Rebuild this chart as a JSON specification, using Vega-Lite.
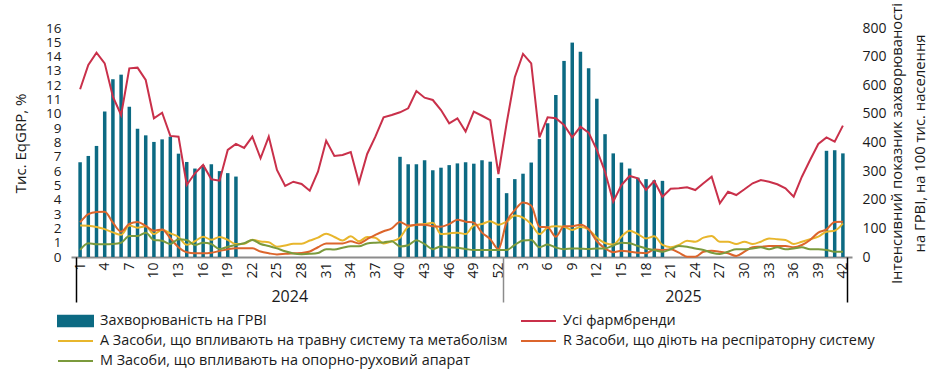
{
  "$schema": "https://vega.github.io/schema/vega-lite/v6.json",
  "width": 781,
  "height": 229,
  "autosize": {"type": "none"},
  "padding": {"left": 71, "top": 28, "right": 93, "bottom": 115},
  "config": {
    "view": {"stroke": null},
    "font": "Open Sans",
    "axis": {"grid": false, "labelColor": "#1a1a1a", "titleColor": "#1a1a1a", "titleFontWeight": "normal"}
  },
  "datasets": {
    "d": [
      {"i":1,"b":331,"u":11.72,"A":2.2,"R":2.42,"M":0.49},
      {"i":2,"b":353,"u":13.42,"A":2.18,"R":3.0,"M":0.96},
      {"i":3,"b":388,"u":14.28,"A":2.1,"R":3.15,"M":0.89},
      {"i":4,"b":508,"u":13.53,"A":1.95,"R":3.17,"M":0.89},
      {"i":5,"b":621,"u":11.2,"A":1.72,"R":2.4,"M":0.91},
      {"i":6,"b":637,"u":9.92,"A":1.55,"R":1.77,"M":1.0},
      {"i":7,"b":525,"u":13.18,"A":2.2,"R":2.31,"M":1.47},
      {"i":8,"b":448,"u":13.23,"A":2.05,"R":2.45,"M":1.47},
      {"i":9,"b":425,"u":12.37,"A":2.15,"R":2.17,"M":1.7},
      {"i":10,"b":402,"u":9.69,"A":1.6,"R":1.84,"M":1.19},
      {"i":11,"b":411,"u":10.08,"A":1.9,"R":1.93,"M":1.14},
      {"i":12,"b":420,"u":8.46,"A":1.65,"R":1.31,"M":0.91},
      {"i":13,"b":361,"u":8.41,"A":1.4,"R":0.68,"M":1.24},
      {"i":14,"b":332,"u":5.03,"A":0.85,"R":0.33,"M":1.19},
      {"i":15,"b":309,"u":5.85,"A":1.1,"R":0.26,"M":0.84},
      {"i":16,"b":320,"u":6.43,"A":1.42,"R":0.26,"M":1.0},
      {"i":17,"b":324,"u":5.43,"A":1.2,"R":0.3,"M":0.91},
      {"i":18,"b":300,"u":5.33,"A":1.4,"R":0.42,"M":0.56},
      {"i":19,"b":293,"u":7.48,"A":1.2,"R":0.54,"M":0.72},
      {"i":20,"b":281,"u":7.9,"A":0.9,"R":0.61,"M":0.84},
      {"i":21,"b":null,"u":7.62,"A":0.92,"R":0.61,"M":0.96},
      {"i":22,"b":null,"u":8.41,"A":1.2,"R":0.61,"M":1.19},
      {"i":23,"b":null,"u":6.9,"A":1.08,"R":0.38,"M":0.91},
      {"i":24,"b":null,"u":8.41,"A":1.03,"R":0.26,"M":0.77},
      {"i":25,"b":null,"u":6.08,"A":0.72,"R":0.18,"M":0.6},
      {"i":26,"b":null,"u":4.96,"A":0.8,"R":0.22,"M":0.4},
      {"i":27,"b":null,"u":5.26,"A":0.93,"R":0.26,"M":0.25},
      {"i":28,"b":null,"u":5.1,"A":0.93,"R":0.28,"M":0.2},
      {"i":29,"b":null,"u":4.63,"A":1.15,"R":0.38,"M":0.22},
      {"i":30,"b":null,"u":5.96,"A":1.35,"R":0.68,"M":0.28},
      {"i":31,"b":null,"u":8.13,"A":1.63,"R":0.95,"M":0.55},
      {"i":32,"b":null,"u":7.06,"A":1.4,"R":0.95,"M":0.52},
      {"i":33,"b":null,"u":7.13,"A":1.15,"R":0.95,"M":0.65},
      {"i":34,"b":null,"u":7.34,"A":1.45,"R":1.1,"M":0.75},
      {"i":35,"b":null,"u":5.19,"A":1.1,"R":0.95,"M":0.75},
      {"i":36,"b":null,"u":7.2,"A":1.4,"R":1.25,"M":0.95},
      {"i":37,"b":null,"u":8.41,"A":1.35,"R":1.55,"M":1.0},
      {"i":38,"b":null,"u":9.76,"A":0.95,"R":1.8,"M":1.02},
      {"i":39,"b":null,"u":9.92,"A":1.1,"R":2.0,"M":1.1},
      {"i":40,"b":350,"u":10.11,"A":1.35,"R":2.45,"M":0.74},
      {"i":41,"b":324,"u":10.39,"A":2.1,"R":2.2,"M":0.82},
      {"i":42,"b":324,"u":11.6,"A":2.25,"R":2.25,"M":1.17},
      {"i":43,"b":338,"u":11.13,"A":2.3,"R":2.25,"M":0.9},
      {"i":44,"b":303,"u":10.97,"A":2.4,"R":2.15,"M":0.55},
      {"i":45,"b":312,"u":10.27,"A":1.6,"R":2.12,"M":0.74},
      {"i":46,"b":321,"u":9.34,"A":1.65,"R":2.3,"M":0.67},
      {"i":47,"b":327,"u":9.69,"A":1.7,"R":2.6,"M":0.64},
      {"i":48,"b":331,"u":8.76,"A":1.6,"R":2.47,"M":0.56},
      {"i":49,"b":326,"u":10.16,"A":2.2,"R":2.4,"M":0.49},
      {"i":50,"b":338,"u":9.87,"A":2.3,"R":1.7,"M":0.49},
      {"i":51,"b":333,"u":9.57,"A":2.5,"R":1.25,"M":0.49},
      {"i":52,"b":276,"u":5.8,"A":2.26,"R":0.55,"M":0.49},
      {"i":53,"b":223,"u":9.34,"A":2.47,"R":2.45,"M":0.49},
      {"i":54,"b":272,"u":12.56,"A":2.9,"R":3.27,"M":0.84},
      {"i":55,"b":291,"u":14.19,"A":2.75,"R":3.81,"M":1.16},
      {"i":56,"b":330,"u":13.53,"A":2.3,"R":3.6,"M":1.19},
      {"i":57,"b":412,"u":8.36,"A":1.6,"R":2.12,"M":0.68},
      {"i":58,"b":467,"u":9.76,"A":2.05,"R":2.08,"M":0.87},
      {"i":59,"b":566,"u":9.69,"A":2.15,"R":1.42,"M":0.66},
      {"i":60,"b":685,"u":9.22,"A":2.12,"R":2.14,"M":0.54},
      {"i":61,"b":749,"u":8.36,"A":1.89,"R":2.15,"M":0.6},
      {"i":62,"b":717,"u":9.11,"A":2.1,"R":2.26,"M":0.58},
      {"i":63,"b":659,"u":8.69,"A":1.92,"R":1.95,"M":0.56},
      {"i":64,"b":553,"u":7.48,"A":1.35,"R":1.1,"M":0.6},
      {"i":65,"b":429,"u":5.96,"A":0.98,"R":0.6,"M":0.6},
      {"i":66,"b":362,"u":3.86,"A":0.87,"R":0.34,"M":0.8},
      {"i":67,"b":330,"u":5.03,"A":1.42,"R":0.44,"M":1.0},
      {"i":68,"b":309,"u":5.66,"A":1.84,"R":0.37,"M":0.96},
      {"i":69,"b":277,"u":5.5,"A":1.6,"R":0.3,"M":0.77},
      {"i":70,"b":272,"u":4.68,"A":1.3,"R":0.26,"M":0.6},
      {"i":71,"b":268,"u":5.31,"A":1.45,"R":0.52,"M":0.48},
      {"i":72,"b":266,"u":4.21,"A":0.84,"R":0.49,"M":0.37},
      {"i":73,"b":null,"u":4.77,"A":0.68,"R":0.54,"M":0.54},
      {"i":74,"b":null,"u":4.8,"A":0.84,"R":0.3,"M":0.77},
      {"i":75,"b":null,"u":4.87,"A":1.14,"R":0.02,"M":0.72},
      {"i":76,"b":null,"u":4.68,"A":1.07,"R":0.02,"M":0.6},
      {"i":77,"b":null,"u":5.15,"A":1.35,"R":0.37,"M":0.49},
      {"i":78,"b":null,"u":5.61,"A":1.47,"R":0.44,"M":0.3},
      {"i":79,"b":null,"u":3.75,"A":1.07,"R":0.37,"M":0.21},
      {"i":80,"b":null,"u":4.56,"A":1.07,"R":0.26,"M":0.37},
      {"i":81,"b":null,"u":4.33,"A":0.91,"R":0.07,"M":0.54},
      {"i":82,"b":null,"u":4.73,"A":1.07,"R":0.37,"M":0.54},
      {"i":83,"b":null,"u":5.15,"A":0.91,"R":0.68,"M":0.6},
      {"i":84,"b":null,"u":5.38,"A":1.07,"R":0.72,"M":0.68},
      {"i":85,"b":null,"u":5.26,"A":1.3,"R":0.77,"M":0.54},
      {"i":86,"b":null,"u":5.08,"A":1.24,"R":0.77,"M":0.68},
      {"i":87,"b":null,"u":4.8,"A":1.19,"R":0.77,"M":0.54},
      {"i":88,"b":null,"u":4.21,"A":0.91,"R":0.68,"M":0.6},
      {"i":89,"b":null,"u":5.61,"A":1.07,"R":0.84,"M":0.68},
      {"i":90,"b":null,"u":6.78,"A":1.24,"R":1.19,"M":0.54},
      {"i":91,"b":null,"u":7.9,"A":1.42,"R":1.7,"M":0.54},
      {"i":92,"b":371,"u":8.36,"A":1.77,"R":1.93,"M":0.49},
      {"i":93,"b":373,"u":8.06,"A":1.84,"R":2.45,"M":0.37},
      {"i":94,"b":362,"u":9.18,"A":2.35,"R":2.47,"M":0.37}
    ]
  },
  "data": {"name": "d"},
  "resolve": {"scale": {"y": "independent"}, "axis": {"x": "independent"}},
  "layer": [
    {
      "mark": {"type": "bar", "size": 3.5},
      "encoding": {
        "x": {
          "field": "i", "type": "quantitative",
          "scale": {"domain": [0.5, 94.5], "nice": false, "zero": false},
          "axis": {
            "orient": "bottom",
            "title": null,
            "values": [1,4,7,10,13,16,19,22,25,28,31,34,37,40,43,46,49,52,55,58,61,64,67,70,73,76,79,82,85,88,91,94],
            "labelExpr": "'' + (datum.value > 52 ? datum.value - 52 : datum.value)",
            "labelAngle": 270,
            "labelAlign": "right",
            "labelBaseline": "middle",
            "labelFontSize": 14,
            "labelPadding": 5,
            "labelOverlap": false,
            "labelFlush": false,
            "ticks": false,
            "domain": true,
            "domainColor": "#8c8c8c",
            "domainWidth": 2
          }
        },
        "y": {
          "field": "b", "type": "quantitative",
          "scale": {"domain": [0, 800], "nice": false},
          "axis": {
            "orient": "right",
            "values": [0,100,200,300,400,500,600,700,800],
            "ticks": false,
            "domain": false,
            "labelOverlap": false,
            "labelPadding": 10,
            "labelFontSize": 14,
            "title": ["Інтенсивний показник захворюваності", "на ГРВІ, на 100 тис. населення"],
            "titleAngle": 270,
            "titleX": 45,
            "titleY": 115,
            "titleAlign": "center",
            "titleBaseline": "middle",
            "titleLineHeight": 23,
            "titleFontSize": 14.8
          }
        },
        "color": {
          "datum": "bar",
          "title": null,
          "scale": {
            "domain": ["bar", "u", "A", "R", "M"],
            "range": ["#0c6a83", "#c9304a", "#e8b62c", "#dc652c", "#7b9a3c"]
          },
          "legend": {
            "title": null,
            "orient": "none",
            "direction": "horizontal",
            "legendX": -14,
            "legendY": 283,
            "columns": 2,
            "columnPadding": 12,
            "rowPadding": 0,
            "padding": 0,
            "clipHeight": 20,
            "symbolSize": 1225,
            "symbolType": "stroke",
            "symbolStrokeWidth": 2,
            "labelOffset": 6,
            "labelFontSize": 14.4,
            "labelLimit": 700,
            "labelColor": "#1a1a1a",
            "labelExpr": "datum.value === 'bar' ? 'Захворюваність на ГРВІ' : datum.value === 'u' ? 'Усі фармбренди' : datum.value === 'A' ? 'A Засоби, що впливають на травну систему та метаболізм' : datum.value === 'R' ? 'R Засоби, що діють на респіраторну систему' : 'M Засоби, що впливають на опорно-руховий апарат'",
            "encode": {
              "symbols": {
                "update": {
                  "shape": {"signal": "datum.value === 'bar' ? 'M-1,-0.3H1V0.3H-1Z' : 'stroke'"},
                  "fill": {"signal": "datum.value === 'bar' ? '#0c6a83' : 'transparent'"},
                  "stroke": {"signal": "datum.value === 'bar' ? 'transparent' : datum.value === 'u' ? '#c9304a' : datum.value === 'A' ? '#e8b62c' : datum.value === 'R' ? '#dc652c' : '#7b9a3c'"},
                  "strokeWidth": {"value": 2},
                  "opacity": {"value": 1}
                }
              }
            }
          }
        }
      }
    },
    {
      "mark": {"type": "line", "strokeWidth": 2},
      "encoding": {
        "x": {
          "field": "i", "type": "quantitative",
          "scale": {"domain": [0.5, 94.5], "nice": false, "zero": false},
          "axis": {
            "orient": "bottom",
            "title": null,
            "values": [0.5, 52.5, 94.5],
            "labels": false,
            "domain": false,
            "ticks": true,
            "tickSize": 45,
            "tickWidth": 1.5,
            "tickColor": {"condition": {"test": "datum.value == 52.5", "value": "#8c8c8c"}, "value": "#000000"}
          }
        },
        "y": {
          "field": "u", "type": "quantitative",
          "scale": {"domain": [0, 16], "nice": false},
          "axis": {
            "orient": "left",
            "values": [0,1,2,3,4,5,6,7,8,9,10,11,12,13,14,15,16],
            "ticks": false,
            "domain": false,
            "labelOverlap": false,
            "labelPadding": 10,
            "labelFontSize": 13.5,
            "title": "Тис. EqGRP, %",
            "titleAngle": 270,
            "titleX": -51,
            "titleY": 115,
            "titleAlign": "center",
            "titleBaseline": "middle",
            "titleFontSize": 15
          }
        },
        "color": {"datum": "u", "title": null}
      }
    },
    {
      "transform": [{"fold": ["A", "R", "M"], "as": ["series", "v"]}],
      "mark": {"type": "line", "strokeWidth": 2, "interpolate": "monotone"},
      "encoding": {
        "x": {
          "field": "i", "type": "quantitative",
          "scale": {"domain": [0.5, 94.5], "nice": false, "zero": false},
          "axis": {
            "orient": "bottom",
            "title": null,
            "values": [26.5, 74.5],
            "labelExpr": "datum.value < 52 ? '2024' : '2025'",
            "ticks": false,
            "domain": false,
            "labelPadding": 31,
            "labelFontSize": 16
          }
        },
        "y": {
          "field": "v", "type": "quantitative",
          "scale": {"domain": [0, 16], "nice": false},
          "axis": null
        },
        "color": {"field": "series", "type": "nominal", "title": null},
        "detail": {"field": "series"}
      }
    }
  ]
}
